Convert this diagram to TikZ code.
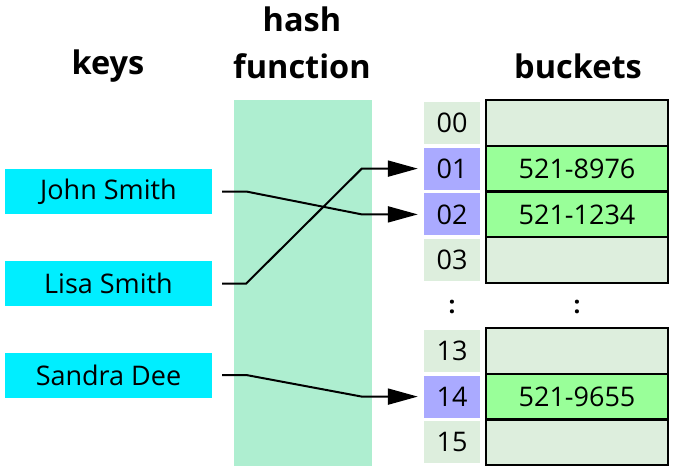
\documentclass[tikz,border=0pt]{standalone}
\usepackage{fontspec}
\setmainfont{Open Sans}
\usetikzlibrary{arrows.meta}
\definecolor{keycol}{HTML}{00EEFF}
\definecolor{hashcol}{HTML}{AEEED0}
\definecolor{idxgray}{HTML}{DDEEDD}
\definecolor{idxblue}{HTML}{AAAAFF}
\definecolor{bktgray}{HTML}{DDEEDD}
\definecolor{bktgreen}{HTML}{99FF99}
\begin{document}
\begin{tikzpicture}[x=1pt,y=-1pt,
  txt/.style={font=\fontsize{27}{30}\selectfont},
  title/.style={font=\bfseries\fontsize{32.5}{47}\selectfont, align=center, inner sep=0pt},
  keybox/.style={txt, fill=keycol, minimum width=207pt, minimum height=45pt, inner sep=0pt},
  idx/.style={txt, minimum width=56pt, minimum height=42pt, inner sep=0pt},
  idxg/.style={idx, fill=idxgray},
  idxb/.style={idx, fill=idxblue},
  bkt/.style={txt, draw=black, line width=2pt, minimum width=182pt, minimum height=45.75pt, inner sep=0pt},
  bktg/.style={bkt, fill=bktgray},
  bktf/.style={bkt, fill=bktgreen},
  conn/.style={line width=2pt, -{Triangle[length=30pt,width=16pt]}}
]
\useasboundingbox (0,0) rectangle (678,474);

% titles
\node[title] (tkeys) at (108,66) {keys};
\node[title] (thash) at (302,43) {hash\\function};
\node[title] (tbkt) at (578,66) {buckets};

% hash function area
\node[fill=hashcol, minimum width=138pt, minimum height=366pt, inner sep=0pt] (hash) at (303,283) {};

% keys
\node[keybox] (john) at (108.5,191.5) {John Smith};
\node[keybox] (lisa) at (108.5,283.5) {Lisa Smith};
\node[keybox] (sandra) at (108.5,375) {Sandra Dee};

% index cells
\node[idxg] (i00) at (452,122.9) {00};
\node[idxb] (i01) at (452,168.6) {01};
\node[idxb] (i02) at (452,214.4) {02};
\node[idxg] (i03) at (452,260.1) {03};
\node[txt, font=\bfseries\fontsize{24}{28}\selectfont] (dots1) at (452,307) {:};
\node[idxg] (i13) at (452,350.9) {13};
\node[idxb] (i14) at (452,396.6) {14};
\node[idxg] (i15) at (452,442.4) {15};

% buckets
\node[bktg] (b00) at (577,122.9) {};
\node[bktf] (b01) at (577,168.6) {521-8976};
\node[bktf] (b02) at (577,214.4) {521-1234};
\node[bktg] (b03) at (577,260.1) {};
\node[txt, font=\bfseries\fontsize{24}{28}\selectfont] (dots2) at (577,307) {:};
\node[bktg] (b13) at (577,350.9) {};
\node[bktf] (b14) at (577,396.6) {521-9655};
\node[bktg] (b15) at (577,442.4) {};

% connectors
\draw[conn] ([xshift=10pt]john.east) -- ++(24,0) -- ([xshift=-62pt]i02.west) -- ([xshift=-6pt]i02.west);
\draw[conn] ([xshift=10pt]lisa.east) -- ++(24,0) -- ([xshift=-62pt]i01.west) -- ([xshift=-6pt]i01.west);
\draw[conn] ([xshift=10pt]sandra.east) -- ++(24,0) -- ([xshift=-62pt]i14.west) -- ([xshift=-6pt]i14.west);
\end{tikzpicture}
\end{document}
